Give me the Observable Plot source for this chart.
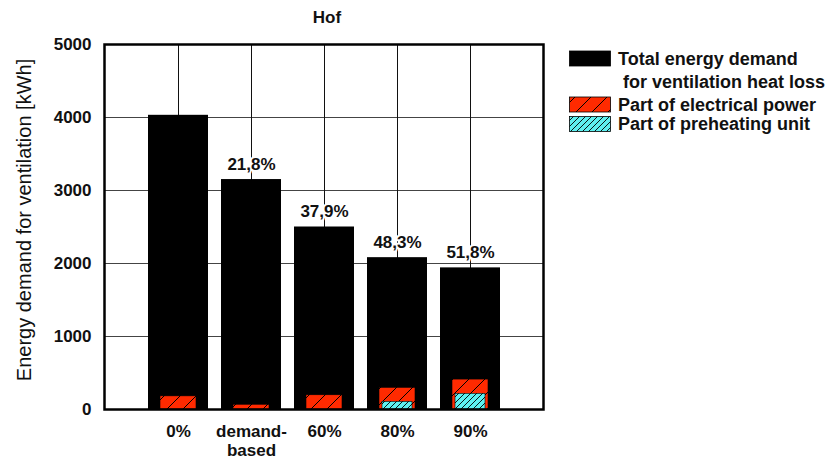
<!DOCTYPE html>
<html><head><meta charset="utf-8">
<script src="https://cdn.jsdelivr.net/npm/d3@7"></script>
<script src="https://cdn.jsdelivr.net/npm/@observablehq/plot@0.6"></script>
<style>
body{margin:0;background:#fff;}
#chart{position:relative;width:827px;height:459px;}
</style></head><body><div id="chart"></div>
<script>
const categories = ["0%", "demand-\nbased", "60%", "80%", "90%"];
const totalDemand = [4030, 3150, 2500, 2080, 1940];
const electricalPart = [180, 65, 195, 297, 410];
const preheatingPart = [0, 0, 0, 105, 215];
const reductionLabels = ["", "21,8%", "37,9%", "48,3%", "51,8%"];
const yTicks = [0, 1000, 2000, 3000, 4000, 5000];
const legendItems = [
  {key: "total", lines: ["Total energy demand", " for ventilation heat loss"]},
  {key: "elec", lines: ["Part of electrical power"]},
  {key: "pre", lines: ["Part of preheating unit"]}
];
const titleText = "Hof";
const yLabel = "Energy demand for ventilation [kWh]";

const rows = categories.map((c, i) => ({
  cat: c, total: totalDemand[i], elec: electricalPart[i], pre: preheatingPart[i], label: reductionLabels[i]
}));

const font = "'Liberation Sans', Arial, sans-serif";

const svg = Plot.plot({
  width: 827, height: 459,
  marginLeft: 104, marginRight: 284, marginTop: 44, marginBottom: 50,
  style: {fontFamily: font, fontSize: "17px", fontWeight: "bold", color: "#111", background: "#fff", overflow: "visible"},
  x: {domain: categories, paddingInner: 0.18, paddingOuter: 0.59, label: null},
  y: {domain: [0, 5000], label: null},
  marks: [
    Plot.ruleY(yTicks.slice(1, -1), {stroke: "#444", strokeWidth: 1}),
    Plot.ruleX(rows, {x: "cat", stroke: "#111", strokeWidth: 1}),
    Plot.barY(rows, {x: "cat", y: "total", fill: "#000"}),
    Plot.barY(rows, {x: "cat", y: "elec", fill: "url(#hatchRed)", stroke: "#000", strokeWidth: 0.6, insetLeft: 12, insetRight: 12}),
    Plot.barY(rows.filter(d => d.pre > 0), {x: "cat", y: "pre", fill: "url(#hatchCyan)", stroke: "#000", strokeWidth: 0.6, insetLeft: 15, insetRight: 15}),
    Plot.text(rows.filter(d => d.label), {x: "cat", y: "total", text: "label", dy: -15, fontSize: 17, fontWeight: "bold", fill: "#111", stroke: "#fff", strokeWidth: 4, paintOrder: "stroke"}),
    Plot.frame({stroke: "#000", strokeWidth: 2.5}),
    Plot.axisY(yTicks, {tickSize: 0, tickPadding: 13, label: null, tickFormat: d => String(d), fontSize: 17, fontWeight: "bold"}),
    Plot.axisX({tickSize: 0, tickPadding: 15, label: null, fontSize: 17, fontWeight: "bold", lineHeight: 1.07})
  ]
});

const s = d3.select(svg);
const defs = s.insert("defs", ":first-child");
const pr = defs.append("pattern").attr("id", "hatchRed").attr("patternUnits", "userSpaceOnUse").attr("width", 16).attr("height", 16);
pr.append("rect").attr("width", 16).attr("height", 16).attr("fill", "#ff2a00");
pr.append("path").attr("d", "M0,16 L16,0 M-4,4 L4,-4 M12,20 L20,12").attr("stroke", "#000").attr("stroke-width", 1);
const pc = defs.append("pattern").attr("id", "hatchCyan").attr("patternUnits", "userSpaceOnUse").attr("width", 6).attr("height", 6);
pc.append("rect").attr("width", 6).attr("height", 6).attr("fill", "#5ef0f0");
pc.append("path").attr("d", "M0,6 L6,0 M-2,2 L2,-2 M4,8 L8,4").attr("stroke", "#000").attr("stroke-width", 0.9);

// title
s.append("text").attr("x", 327).attr("y", 17).attr("dy", "0.35em").attr("text-anchor", "middle")
  .attr("font-family", font).attr("font-size", 17).attr("font-weight", "bold").attr("fill", "#111").text(titleText);
// y label
s.append("text").attr("transform", "translate(24,220) rotate(-90)").attr("dy", "0.35em").attr("text-anchor", "middle")
  .attr("font-family", font).attr("font-size", 20).attr("font-weight", "normal").attr("fill", "#111").text(yLabel);

// legend
const fills = {total: "#000", elec: "url(#hatchRed)", pre: "url(#hatchCyan)"};
const legendY = [58.5, 104.5, 124];
const lg = s.append("g").attr("font-family", font).attr("font-size", 18).attr("font-weight", "bold").attr("fill", "#111").attr("text-anchor", "start");
legendItems.forEach((it, i) => {
  const cy = legendY[i];
  lg.append("rect").attr("x", 569.5).attr("y", cy - 7.5).attr("width", 41).attr("height", 15)
    .attr("fill", fills[it.key]).attr("stroke", "#000").attr("stroke-width", 0.8);
  it.lines.forEach((ln, j) => {
    lg.append("text").attr("x", 618).attr("y", cy + j * 23).attr("dy", "0.35em").attr("text-anchor", "start")
      .style("white-space", "pre").text(ln);
  });
});

document.getElementById("chart").appendChild(svg);
</script></body></html>
